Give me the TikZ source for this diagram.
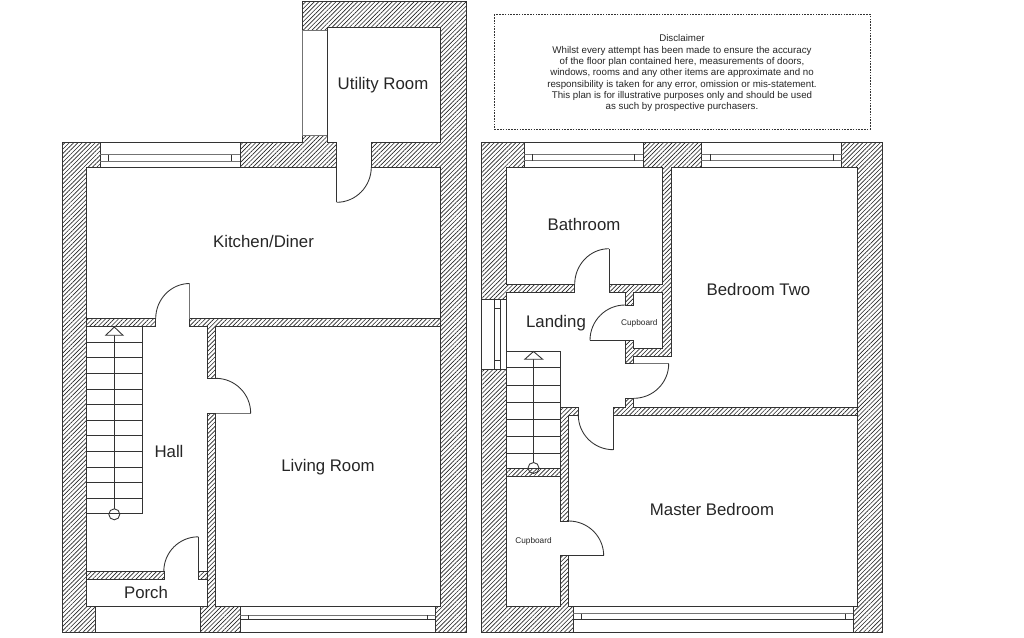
\documentclass[tikz,border=0pt]{standalone}
\usepackage{fontspec}
\setmainfont{Liberation Sans}
\usetikzlibrary{patterns.meta}
\definecolor{ink}{gray}{0.2}
\definecolor{txt}{gray}{0.15}
\tikzset{
  wall/.style={draw=ink,line width=0.65pt,pattern={Lines[angle=45,distance=2.3pt,line width=0.48pt]},pattern color=black!85},
  ln/.style={draw=ink,line width=0.65pt},
  glass/.style={draw=black!55,line width=0.75pt},
  room/.style={text=txt,font=\fontsize{12.6pt}{14pt}\selectfont,inner sep=0pt},
  small/.style={text=txt,font=\fontsize{6.2pt}{7pt}\selectfont,inner sep=0pt},
  note/.style={text=txt,font=\fontsize{7.3pt}{8.5pt}\selectfont,inner sep=0pt,align=center},
  notebox/.style={draw=ink,line width=0.5pt,dash pattern=on 1.2pt off 0.9pt}
}
% quarter swing: centre, start, end
\newcommand\swing[6]{(#3,#4) .. controls ({#3+.5523*(#5-#1)},{#4+.5523*(#6-#2)}) and ({#5+.5523*(#3-#1)},{#6+.5523*(#4-#2)}) .. (#5,#6)}
\begin{document}
\begin{tikzpicture}[x=0.75pt,y=-0.75pt]
\useasboundingbox (0,0) rectangle (1024,637);
\fill[white] (0,0) rectangle (1024,637);

% ===== Ground floor walls =====
\path[wall] (62,142.7)--(100,142.7)--(100,167)--(86.5,167)--(86.5,606.5)--(95.7,606.5)--(95.7,632.3)--(62,632.3)--cycle;
\path[wall] (240.3,142.7)--(302,142.7)--(302,135)--(327.3,135)--(327.3,142.7)--(336.7,142.7)--(336.7,167)--(240.3,167)--cycle;
\path[wall] (371.3,142.7)--(440.3,142.7)--(440.3,27.5)--(327.3,27.5)--(327.3,30)--(302,30)--(302,1.5)--(466.5,1.5)--(466.5,632.3)--(435.7,632.3)--(435.7,606.5)--(440.3,606.5)--(440.3,167)--(371.3,167)--cycle;
\path[wall] (86.5,318.7)--(155.7,318.7)--(155.7,326.7)--(86.5,326.7)--cycle;
\path[wall] (189.7,318.7)--(440.3,318.7)--(440.3,326.7)--(215.7,326.7)--(215.7,378.3)--(207.7,378.3)--(207.7,326.7)--(189.7,326.7)--cycle;
\path[wall] (207.7,413.3)--(215.7,413.3)--(215.7,606.5)--(240,606.5)--(240,632.3)--(200.3,632.3)--(200.3,606.5)--(207.7,606.5)--cycle;
\path[wall] (198.3,571.3)--(207.7,571.3)--(207.7,579.3)--(198.3,579.3)--cycle;
\path[wall] (86.5,571.3)--(164,571.3)--(164,579.3)--(86.5,579.3)--cycle;

% utility side panel
\draw[ln] (327.3,27.5)--(327.3,142.7);
\draw[glass] (327.3,30)--(302,30)--(302,135)--(327.3,135);

% ground windows
\draw[ln] (100,142.7) rectangle (240.3,167);
\draw[glass] (100,154.5)--(240.3,154.5) (100,161)--(240.3,161);
\draw[ln] (108.5,154.5)--(108.5,161) (231.5,154.5)--(231.5,161);
\draw[ln] (95.7,606.5) rectangle (200.3,632.3);
\draw[ln] (240,606.5) rectangle (435.7,632.3);
\draw[glass] (240,615)--(435.7,615);
\draw[ln] (240,619.3)--(435.7,619.3);
\draw[ln] (248.3,615)--(248.3,619.3) (427.3,615)--(427.3,619.3);

% ground doors
\draw[ln] (336.7,167)--(336.7,202.3);
\draw[ln] \swing{336.7}{167}{336.7}{202.3}{371.3}{167};
\draw[glass] (189.7,318.7)--(189.7,283.5);
\draw[ln] \swing{189.7}{318.7}{189.7}{283.5}{155.7}{318.7};
\draw[glass] (215.7,413.3)--(250.7,413.3);
\draw[ln] \swing{215.7}{413.3}{250.7}{413.3}{215.7}{378.3};
\draw[ln] (198.3,571.3)--(198.3,536.8);
\draw[ln] \swing{198.3}{571.3}{198.3}{536.8}{163.8}{571.3};

% ground stairs
\draw[ln] (142.3,326.7)--(142.3,514);
\foreach \k in {0,...,11} \draw[ln] (86.5,{342.3+15.6*\k})--(142.3,{342.3+15.6*\k});
\draw[ln] (114.3,335.3)--(114.3,509);
\draw[ln,fill=white] (114.3,327)--(123,335.3)--(105.7,335.3)--cycle;
\draw[ln] (114.3,514.3) circle[radius=5.5];

% ===== First floor walls =====
\path[wall] (481,142.7)--(524.3,142.7)--(524.3,167.3)--(506.7,167.3)--(506.7,284.3)--(574.7,284.3)--(574.7,292.7)--(506.7,292.7)--(506.7,299.3)--(481,299.3)--cycle;
\path[wall] (643.3,142.7)--(701.3,142.7)--(701.3,167.3)--(671,167.3)--(671,356)--(633.7,356)--(633.7,363.7)--(625,363.7)--(625,340.3)--(633.7,340.3)--(633.7,348.3)--(662.7,348.3)--(662.7,292.7)--(633.7,292.7)--(633.7,305)--(625,305)--(625,292.7)--(609,292.7)--(609,284.3)--(662.7,284.3)--(662.7,167.3)--(643.3,167.3)--cycle;
\path[wall] (841.7,142.7)--(882.3,142.7)--(882.3,632.3)--(853.3,632.3)--(853.3,606.5)--(857.3,606.5)--(857.3,167.3)--(841.7,167.3)--cycle;
\path[wall] (625,398.3)--(633.7,398.3)--(633.7,407)--(857.3,407)--(857.3,415)--(613.3,415)--(613.3,407)--(625,407)--cycle;
\path[wall] (481,369.3)--(506.7,369.3)--(506.7,606.3)--(560.7,606.3)--(560.7,555.7)--(568.7,555.7)--(568.7,606.3)--(573.3,606.3)--(573.3,632.3)--(481,632.3)--cycle;
\path[wall] (560.7,407)--(578.3,407)--(578.3,415)--(568.7,415)--(568.7,521)--(560.7,521)--cycle;
\path[wall] (506.7,468.3)--(560.7,468.3)--(560.7,476.5)--(506.7,476.5)--cycle;

% first floor windows
\draw[ln] (524.3,142.7) rectangle (643.3,167.3);
\draw[glass] (524.3,154.3)--(643.3,154.3) (524.3,160.7)--(643.3,160.7);
\draw[ln] (532.7,154.3)--(532.7,160.7) (634.7,154.3)--(634.7,160.7);
\draw[ln] (701.3,142.7) rectangle (841.7,167.3);
\draw[glass] (701.3,154.3)--(841.7,154.3) (701.3,160.7)--(841.7,160.7);
\draw[ln] (710,154.3)--(710,160.7) (833.3,154.3)--(833.3,160.7);
\draw[ln] (481,299.3) rectangle (506.7,369.3);
\draw[ln] (494,299.3)--(494,369.3) (500,299.3)--(500,369.3);
\draw[ln] (494,308.3)--(500,308.3) (494,360)--(500,360);
\draw[ln] (573.3,606.3) rectangle (853.3,632.3);
\draw[glass] (573.3,613.7)--(853.3,613.7);
\draw[ln] (573.3,619.3)--(853.3,619.3);
\draw[ln] (581.3,613.7)--(581.3,619.3) (845.3,613.7)--(845.3,619.3);

% first floor doors
\draw[ln] (609,284.3)--(609,248.7);
\draw[ln] \swing{609}{284.3}{609}{248.7}{574.7}{284.3};
\draw[ln] (625,340.3)--(590,340.3);
\draw[ln] \swing{625}{340.3}{590}{340.3}{625}{305};
\draw[glass] (633.7,363.7)--(668.7,363.7);
\draw[ln] \swing{633.7}{363.7}{668.7}{363.7}{633.7}{398.3};
\draw[ln] (613.3,415)--(613.3,449.7);
\draw[ln] \swing{613.3}{415}{613.3}{449.7}{578.3}{415};
\draw[ln] (568.7,555.7)--(603.7,555.7);
\draw[ln] \swing{568.7}{555.7}{603.7}{555.7}{568.7}{521};

% first floor stairs
\draw[ln] (506.7,351.3)--(560.7,351.3)--(560.7,468.3);
\draw[ln] (506.7,299.3)--(506.7,468.3);
\foreach \y in {367.7,385.3,402.3,419,436,453.3} \draw[ln] (506.7,\y)--(560.7,\y);
\draw[ln] (533.3,359.3)--(533.3,462.5);
\draw[ln,fill=white] (533.5,351.5)--(542.7,359.3)--(524.7,359.3)--cycle;
\draw[ln] (533.5,468) circle[radius=5.5];

% labels
\node[room] (utility) at (383,85.5) {Utility Room};
\node[room] (kitchen) at (263.5,241.7) {Kitchen/Diner};
\node[room] (hall) at (169,451) {Hall};
\node[room] (living) at (328,467) {Living Room};
\node[room] (porch) at (146,592) {Porch};
\node[room] (bathroom) at (584,224.7) {Bathroom};
\node[room] (landing) at (556,323) {Landing};
\node[room] (bedtwo) at (758.5,289.5) {Bedroom Two};
\node[room] (master) at (712,509.5) {Master Bedroom};
\node[small] (cupa) at (639.3,323) {Cupboard};
\node[small] (cupb) at (533.5,541.5) {Cupboard};

\draw[notebox] (494.3,14.3) rectangle (870,129);
\node[note] (disclaimer) at (682,73.3) {Disclaimer\\Whilst every attempt has been made to ensure the accuracy\\of the floor plan contained here, measurements of doors,\\windows, rooms and any other items are approximate and no\\responsibility is taken for any error, omission or mis-statement.\\This plan is for illustrative purposes only and should be used\\as such by prospective purchasers.};
\end{tikzpicture}
\end{document}
